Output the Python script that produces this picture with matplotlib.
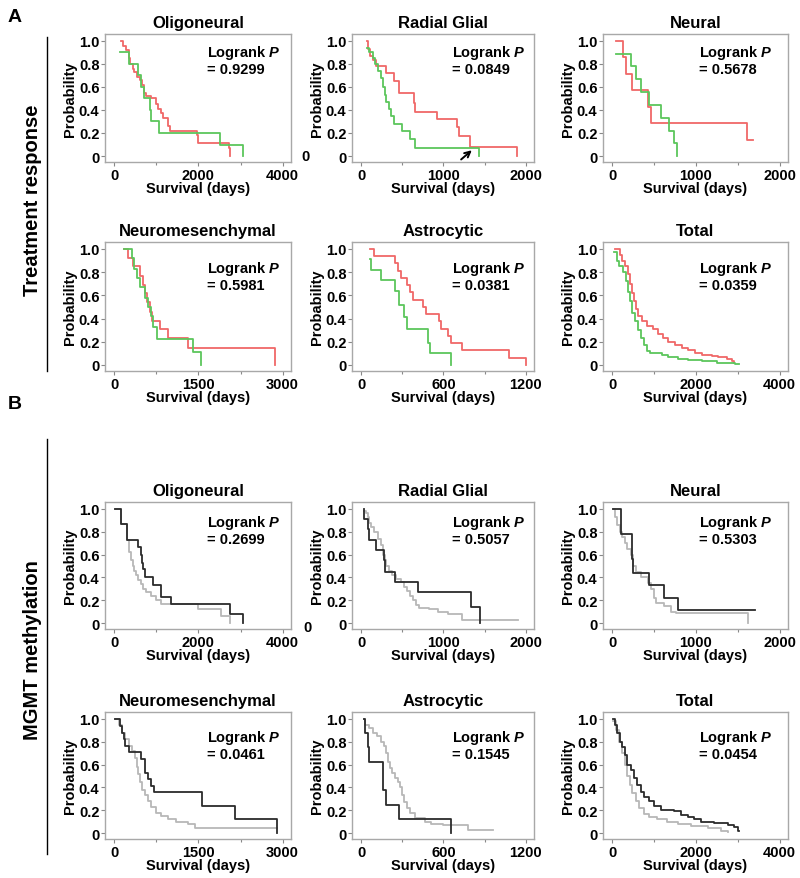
import matplotlib
matplotlib.use("Agg")
import matplotlib.pyplot as plt
from matplotlib.ticker import FixedLocator

plt.rcParams['font.family'] = ['Liberation Sans', 'DejaVu Sans']
plt.rcParams['font.weight'] = 'bold'
plt.rcParams['mathtext.fontset'] = 'custom'
plt.rcParams['mathtext.it'] = 'Liberation Sans:italic:bold'
plt.rcParams['mathtext.rm'] = 'Liberation Sans:bold'

# ---------------- data ----------------
titles = ["Oligoneural", "Radial Glial", "Neural", "Neuromesenchymal", "Astrocytic", "Total"]
xmax = [4000, 2000, 2000, 3000, 1200, 4000]
pvals_A = ["0.9299", "0.0849", "0.5678", "0.5981", "0.0381", "0.0359"]
pvals_B = ["0.2699", "0.5057", "0.5303", "0.0461", "0.1545", "0.0454"]
ytick_vals = [0, 0.2, 0.4, 0.6, 0.8, 1.0]
ytick_labels = ["0", "0.2", "0.4", "0.6", "0.8", "1.0"]

# Panel A (treatment response): red vs green
A_oligo_red_t = [160, 200, 280, 360, 384, 440, 480, 544, 600, 656, 704, 760, 880, 1000, 1040, 1104, 1160, 1280, 1320, 1960, 2000, 2720, 2760]
A_oligo_red_s = [1.0, 0.96, 0.92, 0.85, 0.8, 0.76, 0.73, 0.69, 0.66, 0.62, 0.55, 0.52, 0.5, 0.45, 0.41, 0.37, 0.33, 0.26, 0.22, 0.18, 0.11, 0.07, 0.0]
A_oligo_grn_t = [145, 360, 560, 640, 700, 840, 880, 1056, 2504, 3056]
A_oligo_grn_s = [0.9, 0.8, 0.7, 0.6, 0.5, 0.4, 0.3, 0.2, 0.1, 0.0]

A_radial_red_t = [72, 80, 108, 148, 180, 300, 400, 460, 640, 660, 920, 1160, 1188, 1320, 1892]
A_radial_red_s = [1.0, 0.93, 0.87, 0.83, 0.78, 0.72, 0.65, 0.55, 0.46, 0.38, 0.32, 0.25, 0.17, 0.08, 0.0]
A_radial_grn_t = [72, 100, 140, 168, 200, 240, 272, 288, 308, 340, 360, 400, 500, 600, 652, 1432]
A_radial_grn_s = [0.94, 0.9, 0.85, 0.8, 0.74, 0.68, 0.6, 0.53, 0.47, 0.41, 0.35, 0.28, 0.22, 0.15, 0.07, 0.0]

A_neural_red_t = [48, 133, 161, 241, 422, 462, 1606, 1687]
A_neural_red_s = [1.0, 0.86, 0.71, 0.57, 0.43, 0.29, 0.14, 0.14]
A_neural_grn_t = [48, 221, 281, 341, 442, 582, 675, 743, 775]
A_neural_grn_s = [0.89, 0.78, 0.67, 0.56, 0.44, 0.33, 0.22, 0.11, 0.0]

A_neuromes_red_t = [168, 240, 330, 450, 510, 540, 588, 630, 672, 810, 960, 1308, 2868]
A_neuromes_red_s = [1.0, 0.92, 0.85, 0.77, 0.69, 0.62, 0.54, 0.46, 0.38, 0.31, 0.23, 0.15, 0.0]
A_neuromes_grn_t = [168, 312, 348, 408, 450, 552, 600, 648, 696, 768, 1410, 1548]
A_neuromes_grn_s = [1.0, 0.92, 0.83, 0.75, 0.67, 0.58, 0.5, 0.42, 0.33, 0.22, 0.11, 0.0]

A_astro_red_t = [67, 91, 245, 269, 293, 336, 360, 379, 451, 475, 571, 581, 636, 653, 732, 1080, 1200]
A_astro_red_s = [1.0, 0.9375, 0.875, 0.8125, 0.75, 0.6875, 0.625, 0.5625, 0.5, 0.4375, 0.375, 0.3125, 0.25, 0.1875, 0.125, 0.0625, 0.0]
A_astro_grn_t = [67, 72, 144, 245, 274, 312, 336, 485, 499, 653]
A_astro_grn_s = [0.91, 0.82, 0.73, 0.64, 0.52, 0.41, 0.31, 0.19, 0.1, 0.0]

A_total_red_t = [64, 184, 240, 303, 367, 423, 463, 519, 559, 622, 702, 822, 982, 1101, 1221, 1341, 1500, 1660, 1819, 1979, 2139, 2378, 2538, 2737, 2857, 2921]
A_total_red_s = [1.0, 0.95, 0.9, 0.85, 0.78, 0.7, 0.62, 0.55, 0.48, 0.42, 0.38, 0.34, 0.31, 0.27, 0.23, 0.2, 0.17, 0.15, 0.13, 0.1, 0.09, 0.08, 0.07, 0.05, 0.03, 0.02]
A_total_grn_t = [48, 104, 160, 263, 319, 367, 423, 479, 543, 622, 686, 766, 822, 902, 1181, 1341, 1580, 1819, 2139, 2498, 2937, 3032]
A_total_grn_s = [0.97, 0.9, 0.85, 0.8, 0.72, 0.63, 0.55, 0.45, 0.38, 0.3, 0.23, 0.17, 0.12, 0.1, 0.09, 0.07, 0.05, 0.04, 0.03, 0.02, 0.01, 0.01]

# Panel B (MGMT methylation): black vs gray
B_oligo_blk_t = [24, 160, 304, 560, 624, 656, 680, 736, 920, 1104, 1344, 2760, 3064]
B_oligo_blk_s = [1.0, 0.87, 0.73, 0.67, 0.6, 0.53, 0.47, 0.4, 0.33, 0.23, 0.17, 0.08, 0.0]
B_oligo_gry_t = [24, 160, 304, 360, 400, 440, 480, 520, 560, 624, 680, 760, 880, 1000, 1120, 2000, 2536, 2760]
B_oligo_gry_s = [1.0, 0.87, 0.73, 0.62, 0.55, 0.5, 0.46, 0.42, 0.38, 0.34, 0.3, 0.27, 0.24, 0.2, 0.17, 0.12, 0.06, 0.0]

B_radial_blk_t = [32, 40, 80, 100, 180, 280, 292, 412, 692, 1332, 1448]
B_radial_blk_s = [1.0, 0.91, 0.82, 0.73, 0.64, 0.55, 0.45, 0.36, 0.27, 0.14, 0.0]
B_radial_gry_t = [40, 60, 80, 100, 120, 160, 200, 240, 268, 292, 308, 340, 380, 420, 480, 520, 560, 600, 628, 668, 708, 820, 940, 1060, 1220, 1908]
B_radial_gry_s = [0.98, 0.96, 0.93, 0.88, 0.84, 0.8, 0.74, 0.68, 0.6, 0.55, 0.5, 0.46, 0.42, 0.39, 0.36, 0.32, 0.28, 0.24, 0.2, 0.16, 0.13, 0.12, 0.1, 0.08, 0.03, 0.03]

B_neural_blk_t = [8, 108, 241, 253, 442, 614, 783, 1707]
B_neural_blk_s = [1.0, 0.78, 0.56, 0.44, 0.33, 0.22, 0.11, 0.11]
B_neural_gry_t = [8, 32, 60, 92, 120, 149, 181, 221, 249, 281, 341, 422, 462, 494, 522, 622, 703, 763, 1619]
B_neural_gry_s = [1.0, 0.93, 0.86, 0.8, 0.75, 0.7, 0.65, 0.6, 0.5, 0.45, 0.4, 0.35, 0.3, 0.22, 0.18, 0.15, 0.1, 0.09, 0.0]

B_neuromes_blk_t = [18, 109, 139, 169, 200, 260, 472, 545, 593, 653, 714, 1561, 2154, 2904]
B_neuromes_blk_s = [1.0, 0.94, 0.88, 0.82, 0.76, 0.71, 0.65, 0.53, 0.47, 0.41, 0.36, 0.24, 0.12, 0.0]
B_neuromes_gry_t = [18, 79, 139, 200, 260, 321, 363, 399, 424, 460, 502, 545, 593, 653, 744, 835, 956, 1107, 1319, 1440, 2904]
B_neuromes_gry_s = [1.0, 0.95, 0.88, 0.82, 0.76, 0.72, 0.66, 0.58, 0.52, 0.45, 0.38, 0.33, 0.28, 0.23, 0.18, 0.15, 0.12, 0.1, 0.08, 0.04, 0.04]

B_astro_blk_t = [19, 27, 51, 60, 157, 181, 277, 653]
B_astro_blk_s = [1.0, 0.875, 0.75, 0.625, 0.375, 0.25, 0.125, 0.0]
B_astro_gry_t = [19, 31, 55, 84, 116, 147, 164, 181, 195, 212, 229, 248, 268, 284, 301, 316, 333, 357, 393, 465, 513, 598, 778, 964]
B_astro_gry_s = [1.0, 0.95, 0.92, 0.88, 0.85, 0.8, 0.76, 0.7, 0.62, 0.57, 0.53, 0.48, 0.45, 0.4, 0.33, 0.27, 0.22, 0.18, 0.13, 0.1, 0.08, 0.07, 0.03, 0.03]

B_total_blk_t = [16, 64, 120, 184, 240, 296, 360, 440, 520, 600, 680, 760, 880, 1000, 1160, 1480, 1640, 1800, 1960, 2120, 2440, 2760, 2920, 3016, 3040]
B_total_blk_s = [1.0, 0.95, 0.88, 0.8, 0.75, 0.68, 0.6, 0.55, 0.48, 0.42, 0.36, 0.32, 0.28, 0.24, 0.2, 0.19, 0.16, 0.14, 0.12, 0.1, 0.09, 0.07, 0.05, 0.02, 0.02]
B_total_gry_t = [16, 80, 160, 240, 296, 360, 424, 480, 560, 640, 760, 880, 1080, 1320, 1560, 1880, 2280, 2600, 2760]
B_total_gry_s = [0.98, 0.9, 0.8, 0.7, 0.6, 0.5, 0.42, 0.35, 0.28, 0.22, 0.17, 0.14, 0.12, 0.1, 0.08, 0.06, 0.04, 0.02, 0.01]

arrow_from = (1215, -0.03)
arrow_to = (1345, 0.05)

RED = '#f06868'
GREEN = '#5cc65c'
BLACK = '#2b2b2b'
GRAY = '#b8b8b8'

curves_A = [
    [(A_oligo_red_t, A_oligo_red_s, RED), (A_oligo_grn_t, A_oligo_grn_s, GREEN)],
    [(A_radial_red_t, A_radial_red_s, RED), (A_radial_grn_t, A_radial_grn_s, GREEN)],
    [(A_neural_red_t, A_neural_red_s, RED), (A_neural_grn_t, A_neural_grn_s, GREEN)],
    [(A_neuromes_red_t, A_neuromes_red_s, RED), (A_neuromes_grn_t, A_neuromes_grn_s, GREEN)],
    [(A_astro_red_t, A_astro_red_s, RED), (A_astro_grn_t, A_astro_grn_s, GREEN)],
    [(A_total_red_t, A_total_red_s, RED), (A_total_grn_t, A_total_grn_s, GREEN)],
]
curves_B = [
    [(B_oligo_gry_t, B_oligo_gry_s, GRAY), (B_oligo_blk_t, B_oligo_blk_s, BLACK)],
    [(B_radial_gry_t, B_radial_gry_s, GRAY), (B_radial_blk_t, B_radial_blk_s, BLACK)],
    [(B_neural_gry_t, B_neural_gry_s, GRAY), (B_neural_blk_t, B_neural_blk_s, BLACK)],
    [(B_neuromes_gry_t, B_neuromes_gry_s, GRAY), (B_neuromes_blk_t, B_neuromes_blk_s, BLACK)],
    [(B_astro_gry_t, B_astro_gry_s, GRAY), (B_astro_blk_t, B_astro_blk_s, BLACK)],
    [(B_total_gry_t, B_total_gry_s, GRAY), (B_total_blk_t, B_total_blk_s, BLACK)],
]

# ---------------- layout ----------------
W, H = 800, 879
fig = plt.figure(figsize=(W / 100, H / 100), dpi=100)

cols = [(105, 291), (352, 534), (603, 788)]
rows = [(35, 163), (243, 372), (503, 630), (713, 840)]
txt_x = [0.55, 0.55, 0.52]
txt_y = [(0.86, 0.73), (0.80, 0.67), (0.84, 0.71), (0.80, 0.67)]

FS_TICK = 10.5
FS_LAB = 10.5
FS_TITLE = 12


def make_ax(r, c):
    l, rr = cols[c]
    t, b = rows[r]
    ax = fig.add_axes([l / W, 1 - b / H, (rr - l) / W, (b - t) / H])
    return ax, rr - l, b - t


for block, (curves, pvals) in enumerate([(curves_A, pvals_A), (curves_B, pvals_B)]):
    for i in range(6):
        r = block * 2 + i // 3
        c = i % 3
        ax, wpx, hpx = make_ax(r, c)
        for (t, s, col) in curves[i]:
            ax.step(t, s, where='post', color=col, lw=1.3)
        xm = xmax[i]
        ax.set_xlim(-0.055 * xm, 1.05 * xm)
        ax.set_ylim(-0.052, 1.06)
        ax.xaxis.set_major_locator(FixedLocator([0, xm / 2, xm]))
        ax.set_xticklabels([str(int(v)) for v in [0, xm / 2, xm]])
        ax.xaxis.set_minor_locator(FixedLocator([xm / 4, 3 * xm / 4]))
        ax.set_yticks(ytick_vals)
        ax.set_yticklabels(ytick_labels)
        for sp in ax.spines.values():
            sp.set_color('#a8a8a8')
            sp.set_linewidth(1.0)
        ax.tick_params(axis='both', which='major', direction='out', length=3, width=0.8,
                       color='#888888', labelsize=FS_TICK)
        ax.tick_params(axis='x', which='minor', direction='out', length=2, width=0.8, color='#888888')
        ax.tick_params(axis='x', pad=1.5)
        ax.tick_params(axis='y', pad=1)
        for lab in ax.get_xticklabels() + ax.get_yticklabels():
            lab.set_fontweight('bold')
        ax.set_title(titles[i], fontsize=FS_TITLE, fontweight='bold', pad=5)
        ax.set_ylabel("Probability", fontsize=FS_LAB, fontweight='bold')
        ax.yaxis.set_label_coords(-28 / wpx, 0.5)
        ax.set_xlabel("Survival (days)", fontsize=FS_LAB, fontweight='bold')
        ax.xaxis.set_label_coords(0.5, -19 / hpx)
        ty1, ty2 = txt_y[r]
        ax.text(txt_x[c], ty1, "Logrank $P$", transform=ax.transAxes, fontsize=FS_LAB,
                fontweight='bold', ha='left', va='center')
        ax.text(txt_x[c], ty2, "= " + pvals[i], transform=ax.transAxes, fontsize=FS_LAB,
                fontweight='bold', ha='left', va='center')
        if block == 0 and i == 1:
            ax.annotate('', xy=arrow_to, xytext=arrow_from,
                        arrowprops=dict(arrowstyle='->', color='black', lw=1.4,
                                        mutation_scale=10, shrinkA=0, shrinkB=0))


def ftext(x, y, s, **kw):
    fig.text(x / W, 1 - y / H, s, **kw)


ftext(15, 18, "A", fontsize=14, fontweight='bold', ha='center', va='center')
ftext(15, 405, "B", fontsize=14, fontweight='bold', ha='center', va='center')
ftext(33, 200, "Treatment response", fontsize=14.5, fontweight='bold', rotation=90,
      ha='center', va='center')
ftext(33, 650, "MGMT methylation", fontsize=14.5, fontweight='bold', rotation=90,
      ha='center', va='center')
fig.add_artist(plt.Line2D([47 / W, 47 / W], [1 - 38 / H, 1 - 372 / H], color='black', lw=1.0))
fig.add_artist(plt.Line2D([47 / W, 47 / W], [1 - 440 / H, 1 - 855 / H], color='black', lw=1.0))
ftext(305, 157, "0", fontsize=FS_TICK, fontweight='bold', ha='center', va='center')
ftext(307, 628, "0", fontsize=FS_TICK, fontweight='bold', ha='center', va='center')

fig.savefig("out.png", dpi=100, facecolor='white')
